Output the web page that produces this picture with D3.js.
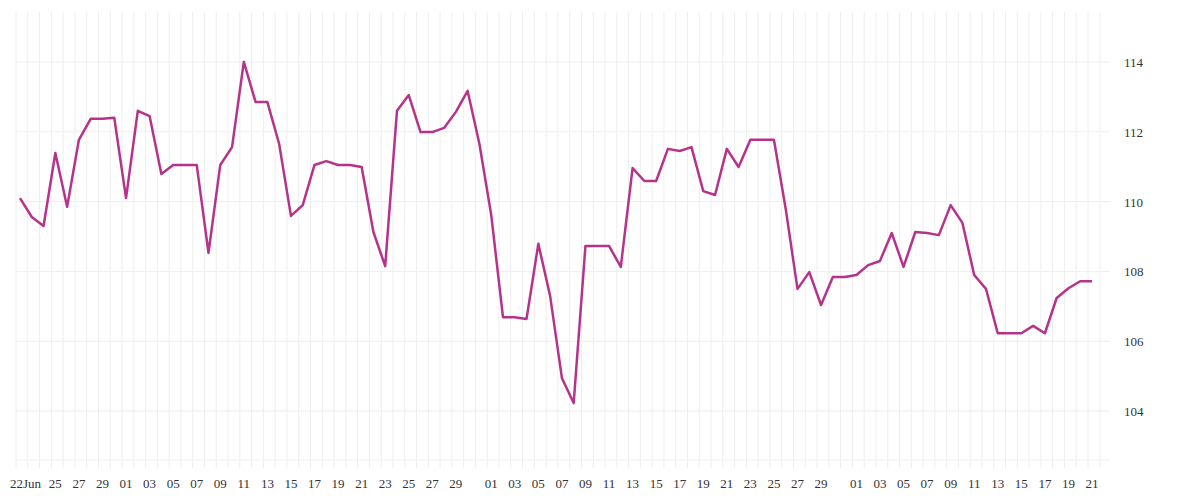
<!DOCTYPE html>
<html>
<head>
<meta charset="utf-8">
<script src="https://cdn.jsdelivr.net/npm/d3@7"></script>
<style>
  body { margin: 0; background: #fff; }
  text { font-family: "Liberation Serif", "DejaVu Serif", serif; }
</style>
</head>
<body>
<svg id="chart" width="1200" height="500"></svg>
<script>
const startDate = "2021-06-22";
const values = [
  110.10, 109.56, 109.30, 111.39, 109.85, 111.77, 112.37, 112.37, 112.40, 110.10,
  112.60, 112.45, 110.79, 111.05, 111.05, 111.05, 108.53, 111.05, 111.56, 114.00,
  112.85, 112.85, 111.65, 109.59, 109.90, 111.05, 111.16, 111.05, 111.05, 110.99,
  109.13, 108.15, 112.60, 113.05, 111.99, 111.99, 112.11, 112.57, 113.17, 111.65,
  109.62, 106.69, 106.69, 106.64, 108.79, 107.30, 104.95, 104.23, 108.73, 108.73,
  108.73, 108.13, 110.96, 110.59, 110.59, 111.51, 111.45, 111.56, 110.30, 110.19,
  111.51, 110.99, 111.77, 111.77, 111.77, 109.79, 107.50, 107.98, 107.04, 107.84,
  107.84, 107.90, 108.18, 108.30, 109.10, 108.13, 109.13, 109.10, 109.04, 109.90,
  109.39, 107.90, 107.50, 106.23, 106.23, 106.23, 106.44, 106.23, 107.24, 107.52,
  107.72, 107.72
];
const yTicks = [104, 106, 108, 110, 112, 114];

const t0 = new Date(startDate + "T00:00:00");
const data = values.map((v, i) => ({ date: d3.timeDay.offset(t0, i), value: v }));
const days = data.map(d => d.date);

const svg = d3.select("#chart");
const x = d3.scaleTime().domain(d3.extent(days)).range([20, 1092]);
const y = d3.scaleLinear().domain([102.6, 115.43]).range([460, 12]);

// grid
svg.append("g").selectAll("line").data(days).enter().append("line")
  .attr("x1", d => x(d) - 4).attr("x2", d => x(d) - 4)
  .attr("y1", 12).attr("y2", 468)
  .attr("stroke", "#eeeeee");
svg.append("line").attr("x1", x(days[days.length - 1]) + 8).attr("x2", x(days[days.length - 1]) + 8)
  .attr("y1", 12).attr("y2", 468).attr("stroke", "#eeeeee");
svg.append("g").selectAll("line").data(yTicks.concat([102.6])).enter().append("line")
  .attr("x1", 15).attr("x2", 1110)
  .attr("y1", d => y(d)).attr("y2", d => y(d))
  .attr("stroke", "#eeeeee");

// y labels
svg.append("g").selectAll("text").data(yTicks).enter().append("text")
  .attr("x", 1124).attr("y", d => y(d) + 5)
  .attr("font-size", 13).attr("fill", "#333")
  .text(d => d);

// x labels
const labelDays = days.filter((d, i) => i === 0 || (i > 1 && d.getDate() % 2 === 1 && d.getDate() !== 31));
svg.append("g").selectAll("text").data(labelDays).enter().append("text")
  .attr("x", d => x(d)).attr("y", 488)
  .attr("text-anchor", (d, i) => i === 0 ? "start" : "middle")
  .attr("font-size", 13).attr("fill", "#333")
  .text((d, i) => i === 0 ? "22Jun" : d3.timeFormat("%d")(d))
  .attr("dx", (d, i) => i === 0 ? -10 : 0);

// line
svg.append("path").datum(data)
  .attr("fill", "none")
  .attr("stroke", "#b5338a")
  .attr("stroke-width", 2.5)
  .attr("stroke-linejoin", "round")
  .attr("d", d3.line().x(d => x(d.date)).y(d => y(d.value)));
</script>
</body>
</html>
